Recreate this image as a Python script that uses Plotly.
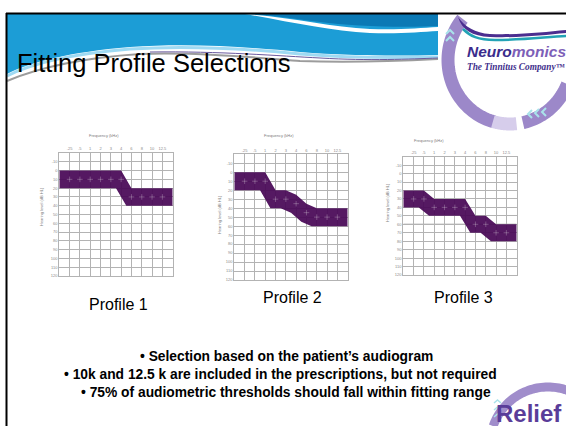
import numpy as np
import plotly.graph_objects as go

W, H = 566, 426

# ---------------- data ----------------
freq_labels = ['.25', '.5', '1', '2', '3', '4', '6', '8', '10', '12.5']
db_labels = [-10, 0, 10, 20, 30, 40, 50, 60, 70, 80, 90, 100, 110, 120]
profile_names = ['Profile 1', 'Profile 2', 'Profile 3']
profile1_db = [10, 10, 10, 10, 10, 10, 30, 30, 30, 30]
profile2_db = [10, 10, 10, 30, 30, 35, 45, 50, 50, 50]
profile3_db = [30, 30, 40, 40, 40, 40, 60, 60, 70, 70]
band_half_width_db = 10
profile3_marker_db = 60
slide_title = 'Fitting Profile Selections'
bullets = [
    '\u2022 Selection based on the patient\u2019s audiogram',
    '\u2022 10k and 12.5 k are included in the prescriptions, but not required',
    '\u2022 75% of audiometric thresholds should fall within fitting range',
]

profiles = [profile1_db, profile2_db, profile3_db]

# ---------------- layout helpers (pixel -> paper) ----------------
def px(x):
    return x / W

def py(y):
    return 1 - y / H

def pt(p):
    return f"{px(p[0]):.5f},{py(p[1]):.5f}"

def mkpath(segs):
    out = []
    for cmd, pts in segs:
        out.append(cmd + ' ' + ' '.join(pt(p) for p in pts))
    return ' '.join(out)

def arcpath(cx, cy, rx, ry, t0, t1, n=48):
    ts = np.radians(np.linspace(t0, t1, n))
    pts = [(cx + rx * np.cos(t), cy + ry * np.sin(t)) for t in ts]
    return 'M ' + pt(pts[0]) + ' ' + ' '.join('L ' + pt(p) for p in pts[1:])

BAND = 'rgba(72,8,86,0.93)'
GRID = '#b3b3b3'
SANS = 'Liberation Sans, Arial, sans-serif'

# chart boxes in pixels: (left, top, right, bottom)
boxes = [(59.3, 153.0, 172.7, 276.0),
         (234.3, 154.3, 347.7, 280.0),
         (403.3, 156.7, 516.7, 275.0)]

fig = go.Figure()

n_f = len(freq_labels)
x_full = list(range(0, n_f + 2))

for i, centers in enumerate(profiles):
    xa = 'x' if i == 0 else f'x{i+1}'
    ya = 'y' if i == 0 else f'y{i+1}'
    c = [centers[0]] + list(centers) + [centers[-1]]
    top_x = x_full
    top_y = [v - band_half_width_db for v in c]
    bot_x = [x - 0.5 if 0 < x < x_full[-1] else x for x in x_full]
    bot_y = [v + band_half_width_db for v in c]
    fig.add_trace(go.Scatter(
        x=top_x + bot_x[::-1] + [top_x[0]],
        y=top_y + bot_y[::-1] + [top_y[0]],
        mode='lines', fill='toself', fillcolor=BAND,
        line=dict(width=0, color=BAND), hoverinfo='skip',
        xaxis=xa, yaxis=ya, showlegend=False))
    fig.add_trace(go.Scatter(
        x=list(range(1, n_f + 1)), y=list(centers), mode='markers',
        marker=dict(symbol='cross-thin', size=4,
                    line=dict(width=1, color='rgba(255,255,255,0.25)')),
        hoverinfo='skip', xaxis=xa, yaxis=ya, showlegend=False))

layout_axes = {}
for i, (l, t, r, b) in enumerate(boxes):
    sx = '' if i == 0 else str(i + 1)
    layout_axes[f'xaxis{sx}'] = dict(
        domain=[px(l), px(r)], anchor=f'y{sx}', range=[0, n_f + 1],
        tickmode='array', tickvals=x_full, ticktext=[''] + freq_labels + [''],
        side='top', showgrid=True, gridcolor=GRID, gridwidth=1,
        showline=True, linecolor=GRID, linewidth=1, mirror=True,
        ticks='', zeroline=False, fixedrange=True, automargin=False,
        tickfont=dict(size=4, color='#8a8a8a', family=SANS))
    layout_axes[f'yaxis{sx}'] = dict(
        domain=[py(b), py(t)], anchor=f'x{sx}', range=[120, -20],
        tickmode='array', tickvals=[-20] + db_labels,
        ticktext=[''] + [str(v) for v in db_labels],
        showgrid=True, gridcolor=GRID, gridwidth=1,
        showline=True, linecolor=GRID, linewidth=1, mirror=True,
        ticks='', zeroline=False, fixedrange=True, automargin=False,
        tickfont=dict(size=4, color='#8a8a8a', family=SANS))

shapes = []
# slide border
shapes.append(dict(type='line', xref='paper', yref='paper', x0=px(6), y0=py(13.5), x1=px(566), y1=py(13.5),
                   line=dict(color='black', width=2), layer='above'))
shapes.append(dict(type='line', xref='paper', yref='paper', x0=px(6.5), y0=py(13), x1=px(6.5), y1=py(426),
                   line=dict(color='black', width=2), layer='above'))

# blue banner
shapes.append(dict(type='path', xref='paper', yref='paper', layer='below',
    path=mkpath([('M', [(7, 14)]), ('L', [(438, 14)]), ('L', [(438, 55)]),
                 ('C', [(400, 56), (350, 56), (300, 52)]),
                 ('C', [(250, 47), (190, 43), (130, 47)]),
                 ('C', [(70, 52), (30, 62), (7, 74)]), ('Z', [])]),
    fillcolor='#1c9dd6', line=dict(width=0)))
shapes.append(dict(type='path', xref='paper', yref='paper', layer='below',
    path=mkpath([('M', [(250, 14)]), ('L', [(438, 14)]), ('L', [(438, 26)]),
                 ('C', [(400, 28), (350, 26), (320, 22)]),
                 ('C', [(290, 18), (270, 15), (250, 14)]), ('Z', [])]),
    fillcolor='#0b79b5', line=dict(width=0)))
shapes.append(dict(type='path', xref='paper', yref='paper', layer='below',
    path=mkpath([('M', [(245, 14)]), ('C', [(290, 17), (330, 27), (370, 29)]),
                 ('C', [(400, 30), (420, 28), (438, 27)]), ('L', [(438, 31)]),
                 ('C', [(420, 32), (400, 34), (370, 33)]),
                 ('C', [(330, 31), (290, 22), (245, 14)]), ('Z', [])]),
    fillcolor='white', line=dict(width=0)))
shapes.append(dict(type='path', xref='paper', yref='paper', layer='below',
    path=mkpath([('M', [(7, 76)]), ('C', [(30, 64), (70, 54), (130, 49)]),
                 ('C', [(190, 45), (250, 49), (300, 54)]),
                 ('C', [(350, 58), (400, 58), (438, 57)])]),
    fillcolor='rgba(0,0,0,0)', line=dict(color='#9fdaf3', width=3)))
shapes.append(dict(type='path', xref='paper', yref='paper', layer='below',
    path=mkpath([('M', [(7, 81)]), ('C', [(40, 67), (80, 58), (140, 54)]),
                 ('C', [(200, 52), (260, 58), (300, 61)]),
                 ('C', [(350, 63), (400, 61), (438, 59)])]),
    fillcolor='rgba(0,0,0,0)', line=dict(color='#9c9c9c', width=2)))
shapes.append(dict(type='path', xref='paper', yref='paper', layer='below',
    path=mkpath([('M', [(150, 52)]), ('C', [(220, 51), (280, 56), (320, 58)]),
                 ('C', [(370, 61), (410, 59), (438, 58)])]),
    fillcolor='rgba(0,0,0,0)', line=dict(color='#6b5a9e', width=1)))

# Neuromonics logo ring
LAV = '#9c88c9'
shapes.append(dict(type='path', xref='paper', yref='paper', layer='below',
    path=arcpath(510, 60, 62, 64, 220, 105), line=dict(color=LAV, width=13)))
shapes.append(dict(type='path', xref='paper', yref='paper', layer='below',
    path=arcpath(510, 60, 62, 64, 106, 84), line=dict(color='#d6cdeb', width=13)))
shapes.append(dict(type='path', xref='paper', yref='paper', layer='below',
    path=arcpath(510, 60, 62, 64, 78, 22), line=dict(color=LAV, width=13)))
for k in range(3):
    x0 = 528 + 7 * k
    shapes.append(dict(type='path', xref='paper', yref='paper', layer='above',
        path=mkpath([('M', [(x0 + 4, 110 - k)]), ('L', [(x0, 114 - k)]), ('L', [(x0 + 4, 118 - k)])]),
        line=dict(color='#a9e3ea', width=2)))
for k in range(2):
    y0 = 30 + 7 * k
    shapes.append(dict(type='path', xref='paper', yref='paper', layer='above',
        path=mkpath([('M', [(446, y0 + 4)]), ('L', [(450, y0)]), ('L', [(454, y0 + 4)])]),
        line=dict(color='#a9e3ea', width=2)))
shapes.append(dict(type='path', xref='paper', yref='paper', layer='below',
    path=mkpath([('M', [(458, 17)]), ('C', [(465, 27), (475, 33), (490, 34)]),
                 ('C', [(520, 35), (545, 32), (566, 30)]), ('L', [(566, 33)]),
                 ('C', [(545, 35), (520, 38), (490, 37)]),
                 ('C', [(472, 36), (462, 30), (458, 17)]), ('Z', [])]),
    fillcolor='#4b2e8f', line=dict(width=0)))
shapes.append(dict(type='path', xref='paper', yref='paper', layer='below',
    path=mkpath([('M', [(463, 29)]), ('C', [(470, 36), (478, 40), (495, 40)]),
                 ('C', [(525, 40), (545, 37), (566, 36)])]),
    line=dict(color='#23a3b5', width=2.5)))

# Relief logo ring
shapes.append(dict(type='path', xref='paper', yref='paper', layer='below',
    path=arcpath(548, 445, 58, 58, 199, 300), line=dict(color='#a08dcb', width=9)))
for k in range(3):
    y0 = 400 + 7 * k
    shapes.append(dict(type='path', xref='paper', yref='paper', layer='above',
        path=mkpath([('M', [(494, y0 + 3)]), ('L', [(497.5, y0)]), ('L', [(501, y0 + 3)])]),
        line=dict(color='#a9e3ea', width=1.5)))

# darker reference line in profile 3
shapes.append(dict(type='line', xref='x3', yref='y3', x0=0, x1=n_f + 1,
                   y0=profile3_marker_db, y1=profile3_marker_db,
                   line=dict(color='#7a7a7a', width=1), layer='below'))

annotations = []

def ann(x, y, text, size, color='black', family=SANS, xanchor='center', angle=0):
    annotations.append(dict(x=px(x), y=py(y), xref='paper', yref='paper', text=text,
                            showarrow=False, xanchor=xanchor, yanchor='middle',
                            textangle=angle, font=dict(size=size, color=color, family=family)))

ann(15, 63, slide_title, 25.5, xanchor='left')
ann(465, 52, "<b><i><span style='color:#3a2c8c'>Neuro</span>"
             "<span style='color:#7d5fb8'>monics</span></i></b>", 15.5, xanchor='left')
ann(465, 67, '<b><i>The Tinnitus Company\u2122</i></b>', 9.3, color='#3f2f8c',
    family='Liberation Serif, Times New Roman, serif', xanchor='left')
ann(529, 413, '<b>Relief</b>', 24, color='#5a3d99')

label_pos = [(118, 304), (292, 297), (463, 297)]
for (lx, ly), name in zip(label_pos, profile_names):
    ann(lx, ly, name, 16)

title_pos = [(104, 135), (279, 136), (429, 140)]
ytitle_pos = [(41, 207), (220, 215), (387, 203)]
for (tx, ty), (yx, yy) in zip(title_pos, ytitle_pos):
    ann(tx, ty, 'Frequency (kHz)', 4, color='#7a7a7a')
    ann(yx, yy, 'Hearing level (dB HL)', 4, color='#7a7a7a', angle=-90)

bullet_pos = [(286, 356), (280, 374.5), (285.5, 392)]
for (bx, by), text in zip(bullet_pos, bullets):
    ann(bx, by, '<b>' + text + '</b>', 13.8)

fig.update_layout(
    width=W, height=H, autosize=False,
    margin=dict(l=0, r=0, t=0, b=0, pad=0),
    paper_bgcolor='white', plot_bgcolor='white',
    showlegend=False, shapes=shapes, annotations=annotations,
    **layout_axes)

fig.write_html('out.html', config={'displayModeBar': False},
               post_script="document.body.style.margin='0';document.body.style.overflow='hidden';")
